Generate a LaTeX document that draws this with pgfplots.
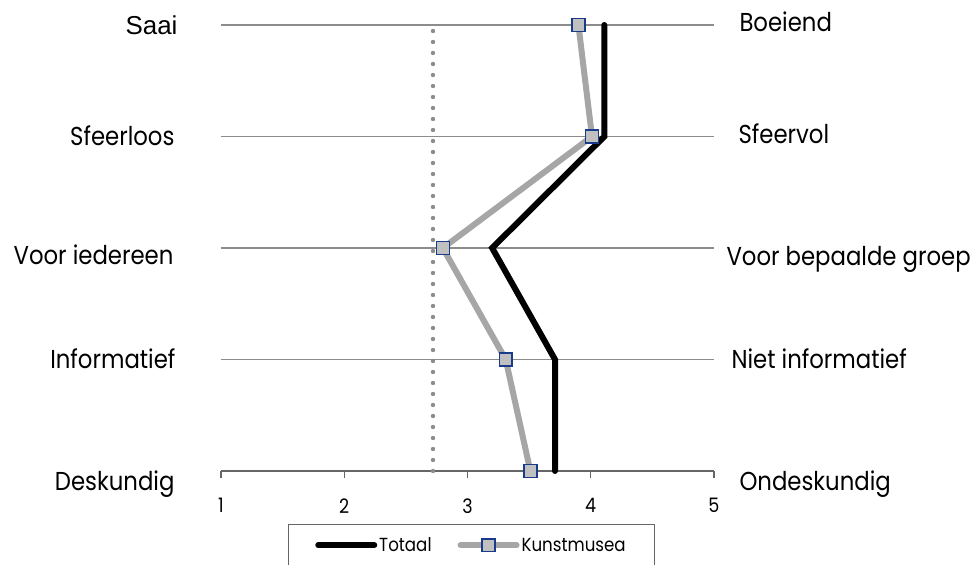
\documentclass[border=0pt]{standalone}
\usepackage{pgfplots}
\pgfplotsset{compat=1.18}
\usepackage{fontspec}
\setmainfont{Poppins}[FakeStretch=0.88]
\newfontfamily\arialfont{Liberation Sans}

\definecolor{gridgray}{HTML}{8C8C8C}
\definecolor{axisgray}{HTML}{666666}
\definecolor{kmgray}{HTML}{A6A6A6}
\definecolor{kmfill}{HTML}{C0C0C0}
\definecolor{kmedge}{HTML}{1A3A8C}
\definecolor{dotgray}{HTML}{8C8C8C}

% Mean scores per statement pair (scale 1-5), row 5 = top pair
\pgfplotstableread{
score row
4.11 5
4.11 4
3.20 3
3.71 2
3.71 1
}\totaal
\pgfplotstableread{
score row
3.90 5
4.01 4
2.80 3
3.31 2
3.51 1
}\kunstmusea

\begin{document}
\begin{tikzpicture}
\begin{axis}[
  scale only axis,
  width=493bp, height=446bp,
  xmin=1, xmax=5, ymin=1, ymax=5,
  clip=false,
  axis x line*=bottom,
  axis y line*=left,
  y axis line style={draw=none},
  x axis line style={draw=axisgray, line width=1.2bp},
  xtick={1,2,3,4,5},
  xticklabels={1,2,3,4,5},
  xtick align=outside,
  major tick length=7bp,
  xtick style={draw=axisgray, line width=1.2bp},
  ytick={1,2,3,4,5},
  yticklabels={},
  ytick style={draw=none},
  ymajorgrids,
  grid style={draw=gridgray, line width=1.6bp},
  /pgf/number format/assume math mode=true,
  xticklabel style={font=\fontsize{20}{24}\selectfont, yshift=-17bp},
  legend columns=2,
  legend style={
    at={(rel axis cs:0.5,0)}, xshift=4bp, yshift=-53bp, anchor=north,
    draw=axisgray, line width=0.9bp,
    inner xsep=27bp, inner ysep=11bp,
    font=\fontsize{19}{22}\selectfont,
    /tikz/every even column/.append style={column sep=24bp},
  },
  legend cell align=left,
  legend image code/.code={
    \draw[#1, mark repeat=2, mark phase=2]
      plot coordinates {(0bp,0bp) (28bp,0bp) (56bp,0bp)};
  },
]
% reference line
\addplot[dotgray, line width=4.4bp, line cap=round,
  dash pattern=on 0bp off 11bp, forget plot]
  coordinates {(2.72,1) (2.72,5)};

\addplot[black, line width=6bp, line cap=round]
  table[x=score, y=row] {\totaal};
\addlegendentry{Totaal}

\addplot[kmgray, line width=6bp, line cap=round,
  mark=square*, mark size=6.4bp,
  mark options={fill=kmfill, draw=kmedge, line width=1.5bp}]
  table[x=score, y=row] {\kunstmusea};
\addlegendentry{Kunstmusea}

% statement labels, left pole
\begin{scope}[font=\fontsize{26}{30}\selectfont]
\node[anchor=base east] at (axis cs:1,5) [xshift=-40bp, yshift=-10bp] {\arialfont\fontsize{26}{30}\selectfont Saai};
\node[anchor=base east] at (axis cs:1,4) [xshift=-43bp, yshift=-9bp] {Sfeerloos};
\node[anchor=base east] at (axis cs:1,3) [xshift=-44bp, yshift=-16bp] {Voor iedereen};
\node[anchor=base east] at (axis cs:1,2) [xshift=-42bp, yshift=-9bp] {Informatief};
\node[anchor=base east] at (axis cs:1,1) [xshift=-43bp, yshift=-19bp] {Deskundig};
% right pole
\node[anchor=base west] at (axis cs:5,5) [xshift=22bp, yshift=-7bp] {Boeiend};
\node[anchor=base west] at (axis cs:5,4) [xshift=21bp, yshift=-7bp] {Sfeervol};
\node[anchor=base west] at (axis cs:5,3) [xshift=9bp, yshift=-17bp] {Voor bepaalde groep};
\node[anchor=base west] at (axis cs:5,2) [xshift=14bp, yshift=-9bp] {Niet informatief};
\node[anchor=base west] at (axis cs:5,1) [xshift=22bp, yshift=-19bp] {Ondeskundig};
\end{scope}
\end{axis}
\pgfresetboundingbox
\useasboundingbox (-221bp,-94bp) rectangle (755bp,471bp);
\end{tikzpicture}
\end{document}
